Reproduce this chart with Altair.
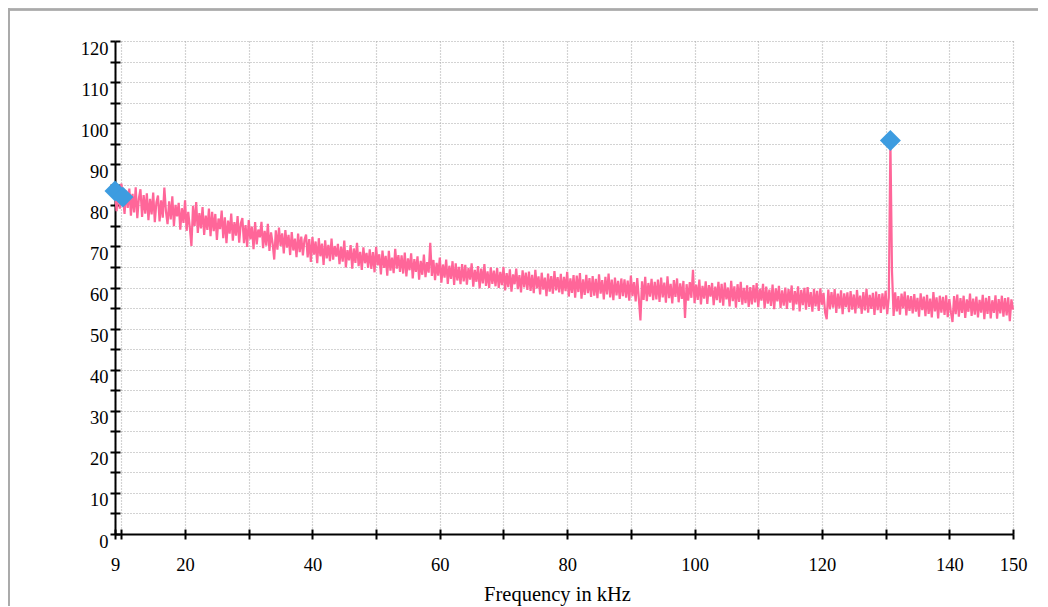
import altair as alt
import pandas as pd

# Spectrum samples: 9.00 kHz to 150.00 kHz in 0.25 kHz steps
freq_start = 9.0
freq_step = 0.25
levels = [
    83.5, 78.6, 84.9, 79.2, 85.3, 82.0, 77.9, 83.6, 79.4, 84.1, 77.5, 82.8, 78.3, 84.4, 76.9, 81.7, 83.9, 77.2, 82.5, 78.0,
    82.9, 76.4, 81.6, 77.8, 83.1, 75.9, 80.7, 82.4, 76.1, 81.2, 77.0, 84.3, 78.5, 75.4, 81.0, 76.6, 82.2, 74.9, 80.1, 77.3,
    80.6, 74.1, 79.3, 75.7, 81.2, 73.8, 78.4, 74.6, 70.1, 79.9, 75.0, 80.8, 73.3, 78.1, 74.4, 79.6, 72.8, 77.5, 74.0, 79.2,
    72.5, 78.4, 73.7, 77.9, 71.6, 76.8, 74.2, 78.7, 72.0, 77.1, 70.8, 76.3, 73.1, 78.0, 71.4, 75.9, 72.6, 77.4, 70.9, 75.6,
    76.9, 70.8, 75.2, 69.9, 76.4, 71.7, 74.8, 69.3, 75.9, 70.5, 74.1, 72.2, 76.0, 69.6, 73.8, 70.2, 75.5, 68.9, 73.4, 70.7,
    66.8, 73.9, 69.2, 74.6, 70.1, 73.2, 68.3, 74.0, 69.7, 72.8, 67.9, 73.5, 69.0, 71.9, 67.4, 73.1, 68.6, 72.4, 67.8, 71.6,
    72.9, 67.3, 71.8, 66.2, 72.3, 68.0, 71.2, 65.9, 72.0, 67.6, 70.7, 65.5, 71.5, 67.1, 70.4, 66.4, 71.9, 66.8, 70.1, 67.5,
    70.6, 65.7, 69.9, 66.3, 71.4, 64.9, 69.1, 66.6, 70.3, 64.6, 69.5, 66.0, 70.9, 65.2, 68.7, 64.3, 69.8, 65.9, 68.4, 64.8,
    69.3, 64.5, 68.6, 63.7, 69.9, 65.4, 68.1, 63.2, 69.0, 64.8, 67.7, 62.9, 68.9, 64.1, 67.3, 63.5, 69.4, 64.6, 67.9, 63.8,
    67.8, 63.4, 68.5, 62.7, 67.1, 64.2, 68.3, 62.2, 66.9, 63.8, 67.6, 61.9, 66.5, 63.1, 68.0, 62.5, 66.2, 63.6, 70.9, 62.8,
    66.7, 61.8, 66.0, 62.9, 67.3, 61.2, 65.6, 62.4, 66.8, 60.9, 65.3, 62.1, 66.4, 60.6, 65.9, 61.7, 65.0, 60.8, 65.7, 61.5,
    65.5, 60.7, 64.8, 61.9, 65.9, 60.2, 64.3, 61.4, 65.2, 59.8, 64.6, 61.0, 65.7, 60.4, 63.9, 59.9, 64.9, 60.9, 64.1, 60.3,
    64.7, 59.9, 63.8, 60.6, 65.0, 59.3, 63.5, 60.1, 64.4, 59.0, 63.2, 60.8, 64.6, 59.6, 63.0, 58.8, 64.2, 60.0, 63.6, 59.4,
    63.9, 59.2, 63.1, 58.6, 64.3, 59.8, 62.7, 58.3, 63.6, 59.5, 62.4, 57.9, 63.4, 59.0, 62.8, 58.5, 64.0, 59.3, 62.5, 58.8,
    63.3, 58.4, 62.6, 59.1, 63.8, 57.8, 62.2, 58.7, 63.0, 57.5, 62.9, 58.9, 63.5, 57.3, 62.0, 58.2, 63.1, 58.6, 62.3, 57.7,
    62.8, 58.0, 62.1, 57.4, 63.2, 58.5, 61.8, 57.1, 62.6, 58.3, 63.4, 57.6, 61.9, 56.9, 62.4, 58.1, 61.6, 57.2, 62.2, 57.9,
    62.0, 57.5, 61.7, 56.8, 62.9, 57.9, 61.3, 56.6, 62.3, 57.3, 52.0, 61.5, 57.0, 62.6, 56.7, 61.1, 57.8, 62.1, 56.9, 61.4,
    57.1, 61.9, 56.5, 62.4, 57.6, 61.2, 56.3, 62.7, 57.4, 60.9, 56.1, 61.8, 57.7, 62.2, 56.4, 61.0, 57.2, 61.6, 52.6, 60.8,
    56.8, 61.3, 57.5, 64.3, 56.2, 60.7, 57.0, 61.9, 55.9, 60.4, 57.3, 61.5, 56.0, 60.6, 57.8, 61.1, 55.7, 60.2, 56.9, 61.4,
    56.3, 60.9, 55.6, 61.2, 57.1, 60.0, 55.4, 61.6, 56.7, 60.3, 55.1, 60.8, 56.5, 61.4, 55.8, 59.9, 56.2, 60.5, 55.3, 60.1,
    55.9, 60.6, 56.4, 61.1, 55.2, 59.7, 56.8, 60.9, 54.9, 60.2, 56.1, 59.5, 55.5, 60.7, 54.7, 59.8, 56.6, 60.4, 55.0, 59.3,
    55.6, 60.0, 54.8, 59.6, 56.3, 60.5, 54.4, 59.1, 55.9, 60.3, 54.2, 59.4, 55.7, 59.9, 54.6, 60.1, 55.3, 58.9, 54.1, 59.7,
    55.4, 59.2, 54.3, 59.8, 55.8, 58.7, 53.9, 52.3, 59.5, 54.7, 58.9, 55.1, 59.6, 53.8, 58.5, 54.9, 59.3, 53.5, 58.6, 55.2,
    58.8, 54.0, 59.1, 54.6, 58.3, 53.7, 59.4, 55.0, 58.0, 53.6, 58.9, 54.4, 59.7, 53.9, 58.2, 54.8, 58.7, 53.3, 59.0, 54.5,
    58.4, 53.8, 58.6, 54.7, 59.2, 53.5, 57.6, 95.8, 64.0, 53.1, 58.8, 54.2, 57.9, 53.4, 58.5, 54.9, 59.0, 53.2, 58.1, 54.3,
    57.9, 53.7, 58.4, 54.1, 57.5, 52.9, 58.6, 54.5, 57.8, 53.0, 58.2, 53.6, 57.3, 52.7, 58.9, 54.2, 57.6, 52.5, 58.0, 53.9,
    57.7, 53.3, 58.1, 52.8, 57.2, 54.0, 51.6, 57.9, 53.5, 58.3, 52.9, 57.4, 53.8, 58.0, 52.6, 57.1, 54.1, 58.5, 53.1, 57.3,
    53.4, 57.8, 52.7, 57.0, 53.9, 58.2, 52.3, 57.5, 53.6, 57.9, 52.5, 56.9, 53.8, 58.1, 52.4, 57.2, 53.7, 58.0, 52.9, 57.4,
    53.2, 57.6, 51.8, 57.1, 54.6,
]

# Marked peaks
marker_freq = [9.0, 10.25, 130.75]
marker_level = [83.5, 82.0, 95.8]

x_ticks = [9, 10, 20, 30, 40, 50, 60, 70, 80, 90, 100, 110, 120, 130, 140, 150]
y_ticks = list(range(0, 121, 5))

spec_df = pd.DataFrame({
    "freq": [freq_start + freq_step * i for i in range(len(levels))],
    "level": levels,
})
mark_df = pd.DataFrame({"freq": marker_freq, "level": marker_level})

FONT = "Liberation Serif, Times New Roman, DejaVu Serif, serif"
x_scale = alt.Scale(domain=[9, 150], nice=False, zero=False)
y_scale = alt.Scale(domain=[0, 120], nice=False)

x_axis_main = alt.Axis(
    orient="bottom", values=x_ticks,
    labelExpr="(datum.value == 9 || datum.value == 150 || datum.value % 20 == 0) ? datum.label : ''",
    grid=True, gridDash=[1, 2], gridColor="#a8a8a8", gridWidth=1.2,
    domainColor="black", domainWidth=2, tickColor="black", tickWidth=2, tickSize=5,
    labelFont=FONT, labelFontSize=18.5, labelColor="black", labelPadding=16,
    labelFlush=False, labelOverlap=False,
    title="Frequency in kHz", titleFont=FONT, titleFontSize=20.5, titleFontWeight="normal",
    titleColor="black", titleX=442, titleY=60, titleBaseline="middle",
)
y_axis_main = alt.Axis(
    orient="left", values=y_ticks,
    labelExpr="datum.value % 10 == 0 ? datum.label : ''",
    grid=True, gridDash=[1, 2], gridColor="#a8a8a8", gridWidth=1.2,
    domainColor="black", domainWidth=2, tickColor="black", tickWidth=2, tickSize=5,
    labelFont=FONT, labelFontSize=18.5, labelColor="black", labelPadding=2,
    labelOffset=7, labelBaseline="middle", labelFlush=False, labelOverlap=False,
    title="",
)
x_axis_inner = alt.Axis(
    orient="bottom", values=x_ticks, offset=-5, domain=False, labels=False,
    grid=False, tickColor="black", tickWidth=2, tickSize=5, title="",
)
y_axis_inner = alt.Axis(
    orient="left", values=y_ticks, offset=-5, domain=False, labels=False,
    grid=False, tickColor="black", tickWidth=2, tickSize=5, title="",
)

line = alt.Chart(spec_df).mark_line(color="#ff6699", strokeWidth=2.2).encode(
    x=alt.X("freq:Q", scale=x_scale, axis=x_axis_main),
    y=alt.Y("level:Q", scale=y_scale, axis=y_axis_main),
)

points = alt.Chart(mark_df).mark_point(
    shape="diamond", filled=True, size=440, color="#3d9ce0", opacity=1
).encode(
    x=alt.X("freq:Q", scale=x_scale, axis=x_axis_inner),
    y=alt.Y("level:Q", scale=y_scale, axis=y_axis_inner),
)

border_top = alt.Chart(mark_df).mark_rule(color="#aaaaaa", strokeWidth=2).encode(
    x=alt.value(-107), x2=alt.value(930), y=alt.value(-31.5)
)
border_left = alt.Chart(mark_df).mark_rule(color="#aaaaaa", strokeWidth=2).encode(
    x=alt.value(-106.3), y=alt.value(-32.5), y2=alt.value(580)
)

chart = alt.layer(border_top, border_left, line, points).resolve_axis(
    x="independent", y="independent"
).properties(
    width=898, height=493,
    autosize=alt.AutoSizeParams(type="none"),
    padding={"left": 107, "top": 33, "right": 25, "bottom": 72},
).configure_view(strokeWidth=0)

chart.save("out.html", embed_options={"renderer": "svg", "actions": False})
